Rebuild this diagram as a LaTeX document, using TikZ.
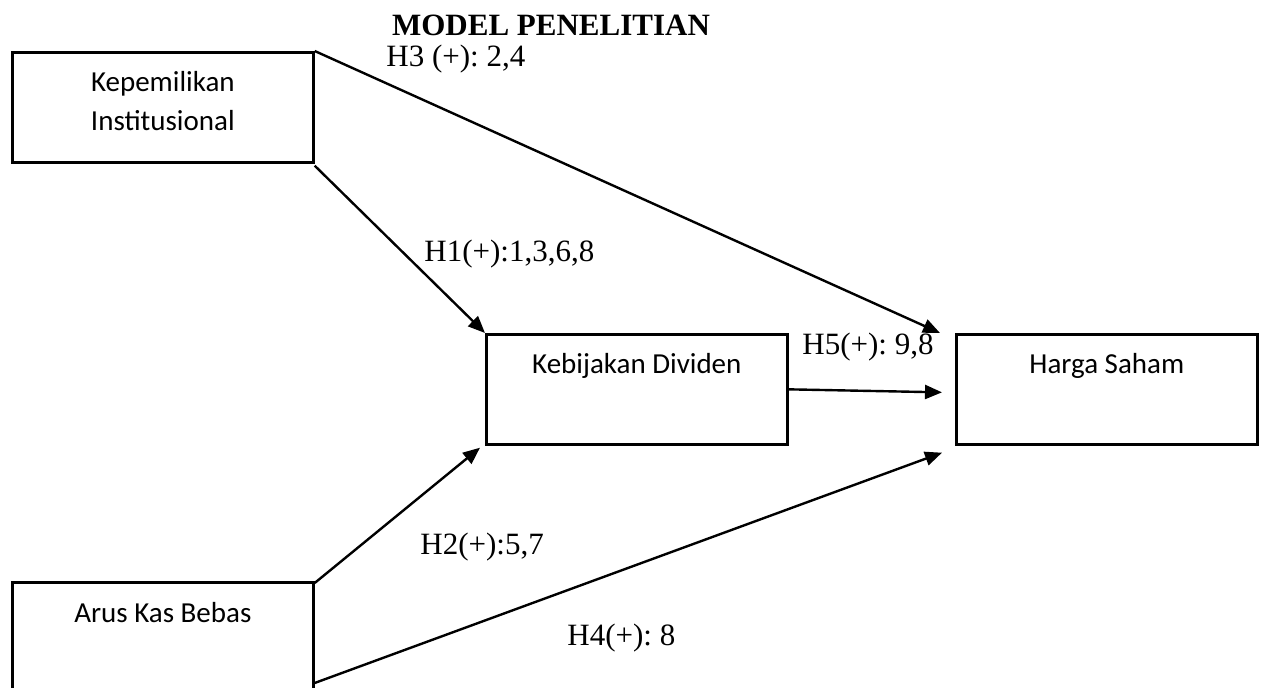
\documentclass[tikz,border=0pt]{standalone}
\usepackage{fontspec}
\setmainfont{Liberation Serif}
\newfontfamily\boxfont{Carlito}
\usetikzlibrary{arrows.meta,calc}
\frenchspacing
\begin{document}
\begin{tikzpicture}[x=0.5pt,y=-0.5pt,
  box/.style={draw,line width=1.35pt,rectangle,inner sep=0pt,
    minimum width=150.5pt,minimum height=55pt,anchor=north west},
  boxfont/.style={font=\boxfont\fontsize{14.5}{19.5}\selectfont,align=center,inner sep=0pt},
  boxtext/.style={boxfont,text height=0.7em,text depth=0.2em},
  hyp/.style={font=\fontsize{15.5}{18}\selectfont,inner sep=0pt,anchor=west,
    text height=0.68em,text depth=0.22em},
  arr/.style={line width=1.2pt,-{Triangle[length=8.5pt,width=7pt]}}
]
\useasboundingbox (0,0) rectangle (1264,688);
\clip (0,0) rectangle (1264,688);

% title
\node[font=\bfseries\fontsize{15.5}{18}\selectfont,inner sep=0pt] (title) at (551,25) {MODEL PENELITIAN};

% variable boxes
\node[box] (ki)  at (11,51)   {};
\node[box] (kd)  at (485,333) {};
\node[box] (hs)  at (955,333) {};
\node[box] (akb) at (11,581)  {};

\node[boxfont,anchor=north] (kitext) at ($(ki.north)+(0,20)$) {Kepemilikan\\Institusional};
\node[boxtext] (kdtext)  at ($(kd.north)+(0,36)$)  {Kebijakan Dividen};
\node[boxtext] (hstext)  at ($(hs.north)+(0,36)$)  {Harga Saham};
\node[boxtext] (akbtext) at ($(akb.north)+(0,37)$) {Arus Kas Bebas};

% arrow end points just in front of the target boxes
\coordinate (h3end) at ($(hs.north west)+(-15,0)$);
\coordinate (h5end) at ($(hs.west)+(-13,3)$);
\coordinate (h4end) at ($(hs.south west)+(-13,7)$);
\coordinate (h2end) at ($(kd.south west)+(-5,2)$);
\coordinate (h4start) at ($(akb.north east)+(0,102)$);

% hypothesis paths
\draw[arr] (ki.north east) -- (h3end);
\draw[arr] ($(ki.south east)+(0,2)$) -- (kd.north west);
\draw[arr] ($(akb.north east)+(0,2)$) -- (h2end);
\draw[arr] (h4start) -- (h4end);
\draw[arr] (kd.east) -- (h5end);

% hypothesis labels
\node[hyp] (h3) at (386,62)  {H3 (+): 2,4};
\node[hyp] (h1) at (424,257) {H1(+):1,3,6,8};
\node[hyp] (h5) at (802,350) {H5(+): 9,8};
\node[hyp] (h2) at (420,550) {H2(+):5,7};
\node[hyp] (h4) at (567,641) {H4(+): 8};
\end{tikzpicture}
\end{document}
